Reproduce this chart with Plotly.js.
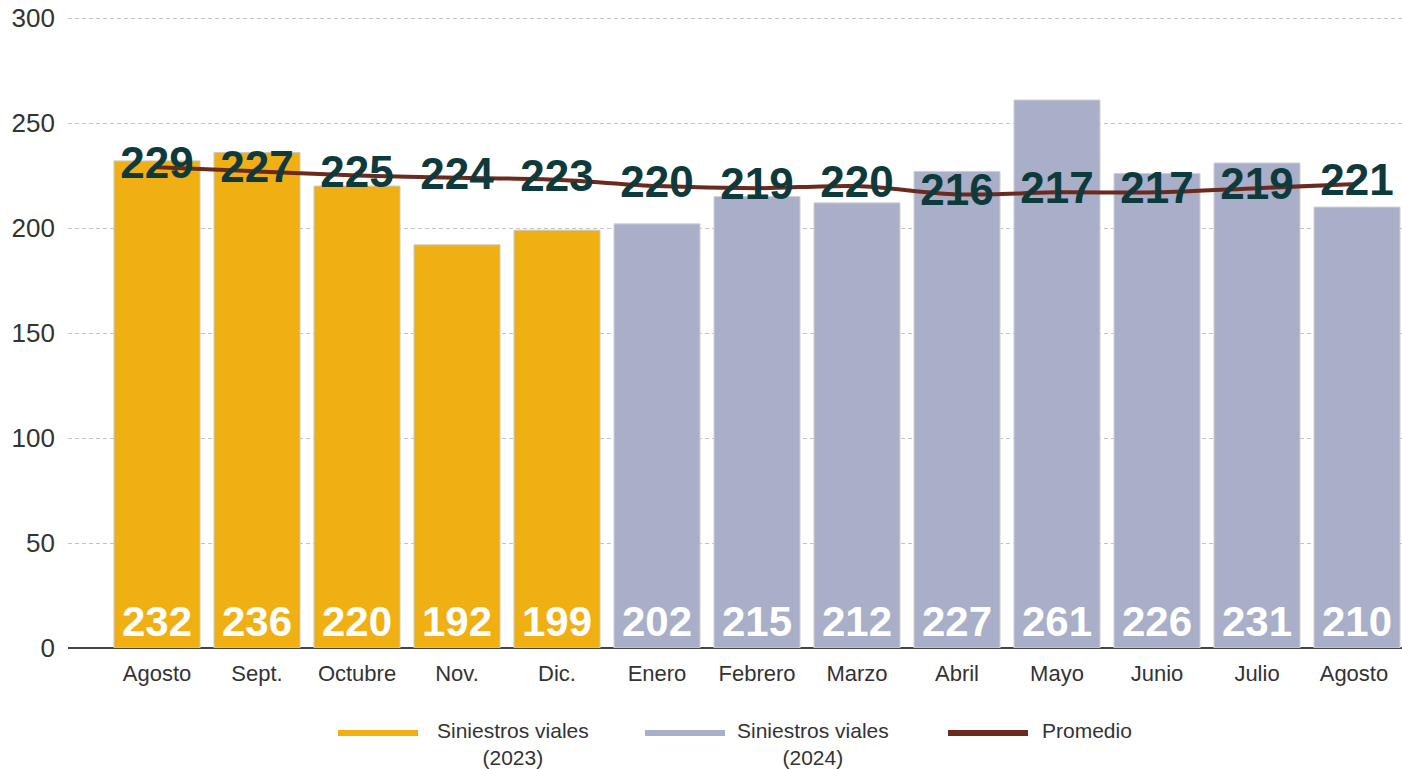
<!DOCTYPE html>
<html>
<head>
<meta charset="utf-8">
<script src="https://cdn.plot.ly/plotly-3.0.1.min.js"></script>
<style>html,body{margin:0;padding:0;background:#fff;}#chart{width:1402px;height:769px;}</style>
</head>
<body>
<div id="chart"></div>
<script>
const months = ["Agosto","Sept.","Octubre","Nov.","Dic.","Enero","Febrero","Marzo","Abril","Mayo","Junio","Julio","Agosto "];
const months2023 = ["Agosto","Sept.","Octubre","Nov.","Dic."];
const months2024 = ["Enero","Febrero","Marzo","Abril","Mayo","Junio","Julio","Agosto "];
const siniestros2023 = [232, 236, 220, 192, 199];
const siniestros2024 = [202, 215, 212, 227, 261, 226, 231, 210];
const promedio = [229, 227, 225, 224, 223, 220, 219, 220, 216, 217, 217, 219, 221];
const seriesNames = ["Siniestros viales<br>(2023)", "Siniestros viales<br>(2024)", "Promedio"];
const yTicks = [0, 50, 100, 150, 200, 250, 300];

const orange = "#F0B014", lavender = "#A9AFC9", brown = "#6B2A1E", teal = "#0E3A3C";
const font = "Liberation Sans, Arial, Helvetica, sans-serif";

const barCommon = {
  type: "bar",
  textposition: "inside",
  insidetextanchor: "start",
  constraintext: "none",
  textangle: 0,
  textfont: {family: font, size: 42, color: "#ffffff", weight: "bold"},
  hoverinfo: "skip",
  showlegend: false
};

const traces = [
  Object.assign({}, barCommon, {
    name: seriesNames[0], x: months2023, y: siniestros2023,
    text: siniestros2023.map(String),
    marker: {color: orange, line: {color: "#c9c9c9", width: 1}}
  }),
  Object.assign({}, barCommon, {
    name: seriesNames[1], x: months2024, y: siniestros2024,
    text: siniestros2024.map(String),
    marker: {color: lavender, line: {color: "#d0d0d0", width: 1}}
  }),
  {
    type: "scatter", mode: "lines+text", name: seriesNames[2],
    x: months, y: promedio,
    line: {color: brown, width: 4, shape: "spline", smoothing: 0.8},
    text: promedio.map(String), textposition: "middle center",
    textfont: {family: font, size: 44, color: teal, weight: "bold"},
    hoverinfo: "skip", showlegend: false
  }
];

const W = 1402, H = 769, L = 68, B = 648, PH = 632.1;
const legendItems = [
  {color: orange, x0: 338, x1: 418, tx: 513, name: seriesNames[0], align: "center", anchor: "center"},
  {color: lavender, x0: 645, x1: 725, tx: 813, name: seriesNames[1], align: "center", anchor: "center"},
  {color: brown, x0: 948, x1: 1028, tx: 1040, name: seriesNames[2], align: "left", anchor: "left"}
];
const shapes = legendItems.map(it => ({
  type: "line", xref: "paper", yref: "paper",
  x0: (it.x0 - L) / (W - L), x1: (it.x1 - L) / (W - L),
  y0: -(733 - B) / PH, y1: -(733 - B) / PH,
  line: {color: it.color, width: 6}
}));
const annotations = legendItems.map(it => ({
  xref: "paper", yref: "paper",
  x: (it.tx - L) / (W - L), y: -(717 - B) / PH,
  xanchor: it.anchor, yanchor: "top", align: it.align,
  text: it.name, showarrow: false,
  font: {family: font, size: 21, color: "#333333"}
}));

const layout = {
  width: W, height: H,
  margin: {l: L, r: 0, t: 16, b: H - B},
  paper_bgcolor: "#ffffff", plot_bgcolor: "#ffffff",
  bargap: 0.14, barmode: "overlay",
  font: {family: font, color: "#333333"},
  xaxis: {
    type: "category", categoryorder: "array", categoryarray: months,
    range: [-0.89, 12.45],
    showgrid: false, zeroline: false,
    showline: false, ticks: "", ticklabelstandoff: 10,
    tickfont: {family: font, size: 22, color: "#333333"}
  },
  yaxis: {
    range: [0, 301], tickvals: yTicks, ticktext: yTicks.map(String),
    showgrid: true, gridcolor: "#c4c4c4", griddash: "4px,3px", gridwidth: 1,
    zeroline: true, zerolinecolor: "#444444", zerolinewidth: 2,
    showline: false, ticks: "", ticklabelstandoff: 12,
    tickfont: {family: font, size: 26, color: "#333333"},
    layer: "below traces"
  },
  shapes: shapes,
  annotations: annotations,
  showlegend: false
};

Plotly.newPlot("chart", traces, layout, {displayModeBar: false, staticPlot: true});
</script>
</body>
</html>
